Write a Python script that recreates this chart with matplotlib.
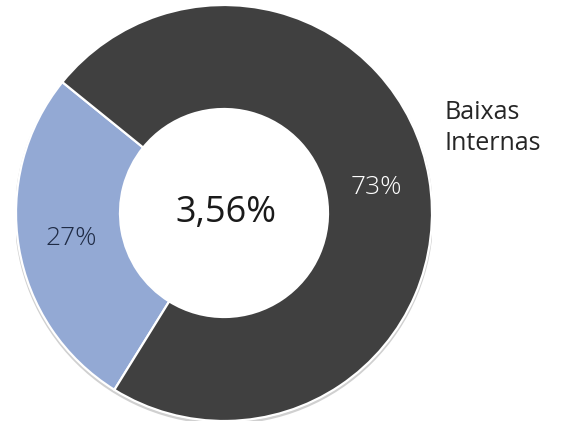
import matplotlib
matplotlib.use("Agg")
import matplotlib.pyplot as plt
from matplotlib.patches import Circle

# Data
categories = ["Outras", "Baixas Internas"]
values = [27, 73]
colors = ["#93a9d4", "#404040"]
pct_text_colors = ["#1f2b45", "#ffffff"]
center_text = "3,56%"
legend_text = "Baixas\nInternas"

plt.rcParams['font.family'] = ['Open Sans', 'DejaVu Sans']

W, H = 562, 428
fig = plt.figure(figsize=(W / 100, H / 100), dpi=100)
fig.patch.set_facecolor("white")

cx, cy, r = 224, 215, 208
ax = fig.add_axes([(cx - r) / W, (cy - r) / H, 2 * r / W, 2 * r / H])
ax.set_aspect("equal")
ax.axis("off")

# soft shadow ring under the donut
ax.add_patch(Circle((0.0, -0.01), 1.0, facecolor="none", edgecolor="#d0d0d0",
                    linewidth=2.0, zorder=0))

wedges, texts, autotexts = ax.pie(
    values,
    colors=colors,
    startangle=141,
    counterclock=True,
    radius=1.0,
    autopct="%.0f%%",
    pctdistance=0.745,
    wedgeprops=dict(width=0.5, edgecolor="white", linewidth=1.6),
    textprops=dict(fontsize=19, fontweight="light"),
)
for t, c in zip(autotexts, pct_text_colors):
    t.set_color(c)

ax.set_xlim(-1.0, 1.0)
ax.set_ylim(-1.0, 1.0)

ax.text(0.01, 0.0, center_text, ha="center", va="center", fontsize=26,
        fontweight="normal", color="#1a1a1a")

fig.text(445 / W, 300 / H, legend_text, ha="left", va="center", fontsize=18,
         color="#262626", linespacing=1.3)

fig.savefig("out.png", dpi=100, facecolor="white")
